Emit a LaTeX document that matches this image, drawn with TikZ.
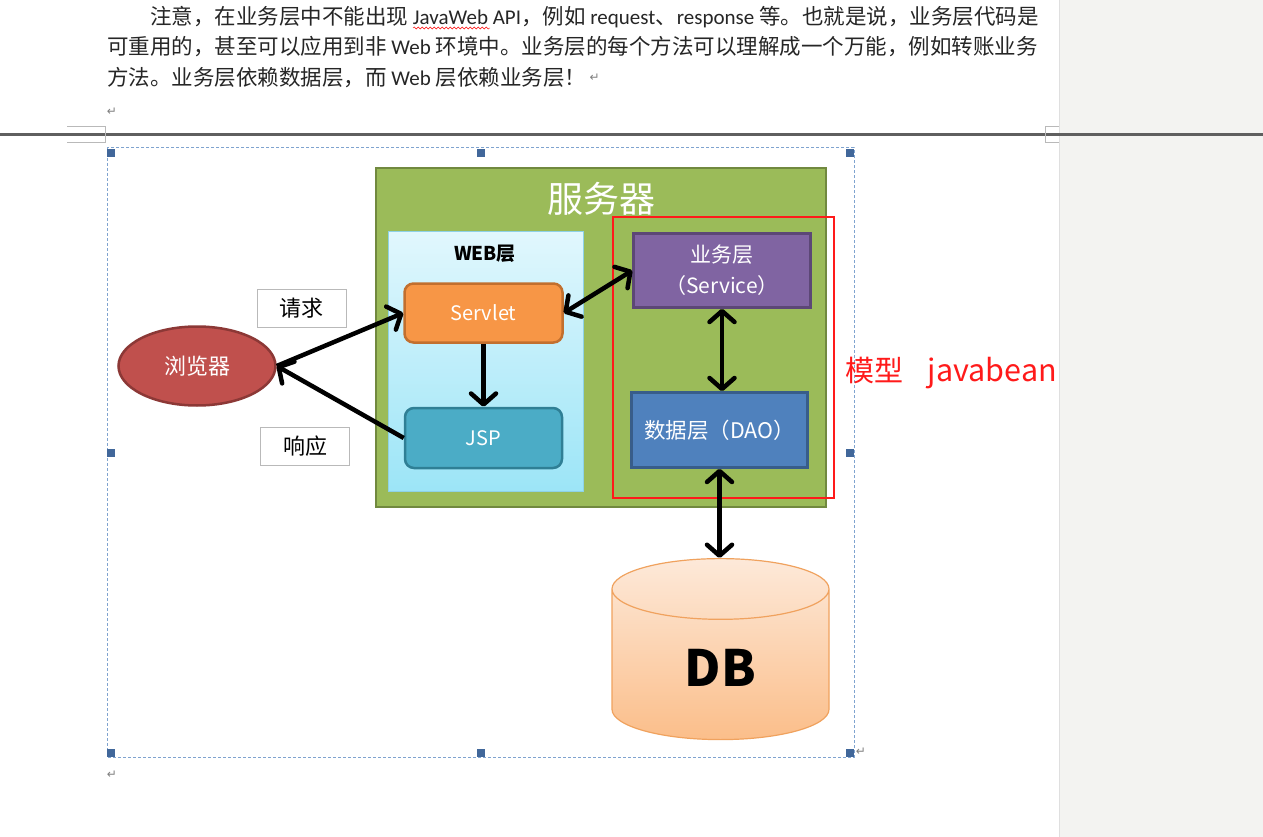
\documentclass[tikz,border=0pt]{standalone}
\usepackage{fontspec}
\setmainfont{Noto Sans CJK SC}
\newfontfamily\symfont{DejaVu Sans}
\newfontfamily\latin{Carlito}[Scale=0.977]
\usetikzlibrary{arrows.meta,positioning,shapes.geometric,decorations.pathmorphing}
\definecolor{pageGray}{HTML}{F3F3F1}
\definecolor{ruleGray}{HTML}{5F5F5F}
\definecolor{selBlue}{HTML}{7FA3CF}
\definecolor{handleBlue}{HTML}{41679A}
\definecolor{serverGreen}{HTML}{9BBB59}
\definecolor{serverLine}{HTML}{71893F}
\definecolor{webTop}{HTML}{E1F7FD}
\definecolor{webBottom}{HTML}{9CE5F7}
\definecolor{webLine}{HTML}{8ED2E6}
\definecolor{servletFill}{HTML}{F79646}
\definecolor{servletLine}{HTML}{C26F2E}
\definecolor{jspFill}{HTML}{4BACC6}
\definecolor{jspLine}{HTML}{2F7F95}
\definecolor{serviceFill}{HTML}{8064A2}
\definecolor{serviceLine}{HTML}{5C4776}
\definecolor{daoFill}{HTML}{4F81BD}
\definecolor{daoLine}{HTML}{385D8A}
\definecolor{browserFill}{HTML}{C0504D}
\definecolor{browserLine}{HTML}{8C3836}
\definecolor{dbTop}{HTML}{FDE9D9}
\definecolor{dbBottom}{HTML}{FBBE8A}
\definecolor{dbLine}{HTML}{F0A25E}
\definecolor{modelRed}{HTML}{FF1A1A}
\tikzstyle{para}=[
	anchor=west,
	inner sep=0pt,
	text=black!85,
	font=\fontsize{21.5}{24}\selectfont
]
\tikzstyle{layer}=[
	rectangle,
	line width=2.5pt,
	inner sep=0pt
]
\tikzstyle{module}=[
	rectangle,
	rounded corners=9pt,
	line width=2.5pt,
	text=white,
	font=\fontsize{20}{22}\selectfont
]
\tikzstyle{tag}=[
	rectangle,
	draw=gray!55,
	fill=white,
	minimum width=89pt,
	minimum height=38pt,
	font=\fontsize{22}{24}\selectfont
]
\tikzstyle{call}=[
	-{Straight Barb[length=11pt,width=25pt,round]},
	line width=4.5pt
]
\tikzstyle{twoway}=[
	{Straight Barb[length=11pt,width=25pt,round]}-{Straight Barb[length=11pt,width=25pt,round]},
	line width=4.5pt
]
\tikzstyle{handle}=[
	fill=handleBlue
]
\tikzstyle{retmark}=[
	inner sep=0pt,
	text=gray,
	font=\symfont\fontsize{12}{12}\selectfont
]

\begin{document}
\begin{tikzpicture}[x=1pt,y=-1pt]
\useasboundingbox (0,0) rectangle (1263,837);
\fill[white] (0,0) rectangle (1059,837);
\fill[pageGray] (1059,0) rectangle (1263,837);
\draw[gray!25] (1059,0) -- (1059,837);

\node [para] (LineOne) at (150,17) {注意，在业务层中不能出现{\latin\ JavaWeb API}，例如{\latin\ request}、{\latin response }等。也就是说，业务层代码是};
\node [para] (LineTwo) at (107,47) {可重用的，甚至可以应用到非{\latin\ Web }环境中。业务层的每个方法可以理解成一个万能，例如转账业务};
\node [para] (LineThree) at (107,78) {方法。业务层依赖数据层，而{\latin\ Web }层依赖业务层！};
\node [retmark, right=3pt of LineThree] (MarkOne) {↵};
\draw[red, decorate, decoration={snake, amplitude=1pt, segment length=4pt}] (413,28) -- (490,28);
\node [retmark] (MarkTwo) at (112,112) {↵};

\draw[line width=3pt, ruleGray] (0,135) -- (1263,135);
\draw[gray!55, line width=1pt] (67,127) -- (105,127) -- (105,143) -- (67,143);
\draw[gray!55, line width=1pt] (1059,127) -- (1045,127) -- (1045,143) -- (1059,143);

\draw[selBlue, line width=1pt, dash pattern=on 3pt off 2pt] (107,148) rectangle (854,757);
\fill[handle] (107,149) rectangle (115,157);
\fill[handle] (477,149) rectangle (485,157);
\fill[handle] (846,149) rectangle (854,157);
\fill[handle] (107,449) rectangle (115,457);
\fill[handle] (846,449) rectangle (854,457);
\fill[handle] (107,749) rectangle (115,757);
\fill[handle] (477,749) rectangle (485,757);
\fill[handle] (846,749) rectangle (854,757);
\node [retmark] (MarkThree) at (861,752) {↵};
\node [retmark] (MarkFour) at (112,775) {↵};

\node [layer, draw=serverLine, fill=serverGreen, minimum width=450pt, minimum height=339pt] (Server) at (601,337.5) {};
\node [text=white, font=\fontsize{36}{36}\selectfont] (ServerTitle) at (601,199) {服务器};
\node [layer, draw=webLine, line width=1pt, top color=webTop, bottom color=webBottom, minimum width=195pt, minimum height=260pt] (Web) at (486,361.5) {};
\node [font=\fontsize{19}{20}\selectfont\bfseries] (WebTitle) at (485,254) {WEB层};
\node [module, draw=servletLine, fill=servletFill, minimum width=158pt, minimum height=59pt] (Servlet) at (483.5,313) {Servlet};
\node [module, draw=jspLine, fill=jspFill, minimum width=157pt, minimum height=60pt, below=63pt of Servlet] (JSP) {JSP};
\node [module, rounded corners=0pt, draw=serviceLine, fill=serviceFill, minimum width=177pt, minimum height=74pt, align=center, font=\fontsize{21}{31}\selectfont] (Service) at (722,270.5) {业务层\\（Service）};
\node [module, rounded corners=0pt, draw=daoLine, fill=daoFill, minimum width=176pt, minimum height=75pt, font=\fontsize{21.5}{22}\selectfont] (DAO) at (719.5,430) {数据层（DAO）};
\node [rectangle, draw=modelRed, line width=1.5pt, minimum width=221pt, minimum height=281pt] (Model) at (723.5,357.5) {};
\node [anchor=west, inner sep=0pt, text=modelRed, font=\fontsize{29}{30}\selectfont] (ModelLabel) at (845,373) {模型\hspace{0.85em}{\fontsize{30.5}{30}\selectfont javabean}};

\node [ellipse, draw=browserLine, line width=2.5pt, fill=browserFill, text=white, minimum width=157pt, minimum height=79pt, font=\fontsize{22}{24}\selectfont] (Browser) at (197,366) {浏览器};
\node [tag] (Request) at (301.5,308.5) {请求};
\node [tag] (Response) at (305,446) {响应};

\node [cylinder, shape border rotate=90, aspect=0.78, anchor=north, draw=dbLine, line width=1.2pt, top color=dbTop, bottom color=dbBottom, minimum width=217pt, minimum height=181pt, font=\fontsize{50}{50}\selectfont\bfseries] (DB) at (720.5,558) {DB};

\draw[call] (Browser.east) -- (Servlet.west);
\draw[call] (JSP.west) -- (Browser.east);
\draw[twoway] (Servlet.east) -- (Service.west);
\draw[call] (Servlet.south) -- (JSP.north);
\draw[twoway] (Service.south) -- (Service.south |- DAO.north);
\draw[twoway] (DAO.south) -- (DAO.south |- DB.north);
\end{tikzpicture}
\end{document}
